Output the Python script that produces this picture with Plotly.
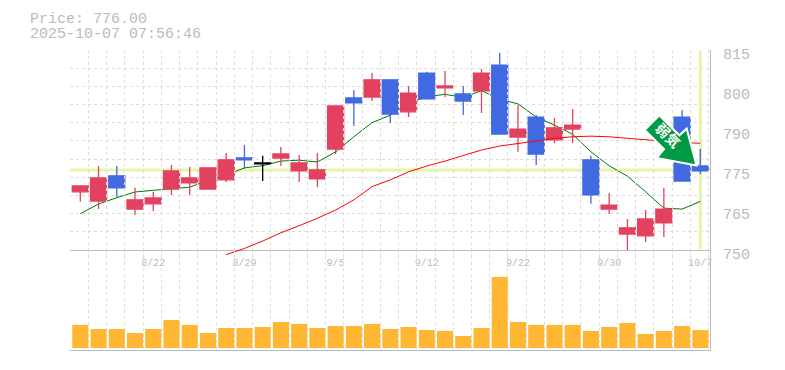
import plotly.graph_objects as go

# ---- data ----
open_ = [768.9, 765.9, 774.1, 763.3, 765.0, 769.8, 771.8, 769.8, 772.8, 779.9, 778.0, 779.9, 775.7, 773.1, 782.8, 799.4, 799.7, 805.3,
         794.9, 807.5, 802.7, 800.7, 801.7, 810.1, 786.7, 793.2, 785.8, 789.3, 779.3, 763.3, 755.2, 754.6, 758.8, 793.2, 777.3]
close = [770.8, 773.4, 770.2, 766.3, 766.9, 775.7, 773.4, 776.7, 779.3, 779.3, 778.3, 781.2, 778.3, 776.0, 796.8, 797.8, 805.3, 794.2,
         801.0, 799.1, 803.3, 798.4, 807.5, 787.7, 789.3, 781.2, 789.7, 790.6, 767.9, 764.6, 757.2, 760.1, 763.3, 772.4, 775.7]
high = [771.1, 777.3, 777.3, 770.2, 768.9, 777.6, 777.0, 777.0, 781.5, 784.1, 780.6, 783.5, 780.9, 781.5, 796.8, 802.0, 807.5, 805.3,
        803.3, 807.9, 808.2, 803.3, 808.8, 814.0, 797.1, 793.9, 792.9, 795.8, 780.6, 768.5, 760.1, 763.0, 770.2, 795.5, 782.8]
low = [765.7, 763.3, 767.2, 761.4, 762.7, 767.9, 767.9, 769.5, 772.1, 776.3, 772.4, 777.3, 772.1, 770.5, 781.2, 790.3, 798.4, 791.3,
       793.2, 798.8, 799.7, 793.9, 794.5, 787.7, 781.9, 777.6, 784.8, 784.8, 765.0, 761.7, 750.0, 752.6, 754.2, 772.4, 774.7]
doji_index = [10]
ma_short = [761.8, 764.95, 767.0, 768.85, 769.4, 769.9, 770.4, 772.7, 774.3, 776.7, 777.4, 778.9, 779.2, 778.6, 781.9, 786.8, 791.4, 793.8,
            797.7, 799.8, 800.6, 799.6, 801.8, 799.0, 797.5, 793.2, 790.6, 787.6, 781.9, 777.4, 774.0, 768.9, 763.6, 763.3, 765.8]
ma_long = [748.5, 750.5, 752.9, 755.6, 757.9, 760.3, 763.0, 766.3, 770.6, 772.8, 775.4, 777.3, 778.9, 780.8, 782.5, 783.8, 784.5, 785.4,
           786.3, 786.8, 787.0, 786.8, 786.3, 785.8, 785.3, 784.9, 784.7]
ma_long_start = 8
volume = [23000, 19000, 19000, 15000, 19000, 28000, 23000, 15000, 20000, 20000, 21000, 26000, 24000, 20000, 22000, 22000, 24000, 19000,
          21000, 18000, 17000, 12000, 20000, 71000, 26000, 23000, 23000, 23000, 17000, 21000, 25000, 14000, 17000, 22000, 18000]
date_positions = [4, 9, 14, 19, 24, 29, 34]
date_labels = ["8/22", "8/29", "9/5", "9/12", "9/22", "9/30", "10/7"]
price_ticks = [750, 763, 776, 789, 802, 815]
price_labels = ["750", "765", "775", "790", "800", "815"]
current_price = 776.0
title_lines = ["Price: 776.00", "2025-10-07 07:56:46"]
badge_text = "弱気"

RED, BLUE, ORANGE = "#E2425F", "#4169E1", "#FFB733"
GRID, AXIS, TEXT = "#DDDDDD", "#BBBBBB", "#BBBBBB"
PALE = "#E6F5A9"
MONO = "Liberation Mono, monospace"
W, H = 785, 370
L, R, T, B = 70, 75, 50, 20

idx = list(range(len(open_)))
XR = [-0.565, 34.53]
YR = [750, 815]
normal = [i for i in idx if i not in doji_index]
pick = lambda arr, ids: [arr[i] for i in ids]

fig = go.Figure()
# price-level markers (behind candles)
fig.add_trace(go.Scatter(x=XR, y=[current_price, current_price], mode="lines", line=dict(color=PALE, width=3),
                         hoverinfo="skip", xaxis="x", yaxis="y"))
fig.add_trace(go.Scatter(x=[idx[-1], idx[-1]], y=[750.3, 814.7], mode="lines", line=dict(color=PALE, width=3),
                         hoverinfo="skip", xaxis="x", yaxis="y"))
fig.add_trace(go.Scatter(x=idx, y=ma_short, mode="lines", line=dict(color="#007A00", width=1),
                         xaxis="x", yaxis="y"))
# the long average dips just under the price panel, so it has a taller hidden axis with the same scale
fig.add_trace(go.Scatter(x=idx[ma_long_start:], y=ma_long, mode="lines", line=dict(color="#FF0000", width=1),
                         xaxis="x", yaxis="y4"))
# candles on an overlaid axis so that they sit above the lines
fig.add_trace(go.Candlestick(x=normal, open=pick(open_, normal), high=pick(high, normal), low=pick(low, normal),
                             close=pick(close, normal), whiskerwidth=0,
                             increasing=dict(line=dict(color=RED, width=1.3), fillcolor=RED),
                             decreasing=dict(line=dict(color=BLUE, width=1.3), fillcolor=BLUE),
                             xaxis="x", yaxis="y3"))
fig.add_trace(go.Candlestick(x=doji_index, open=pick(open_, doji_index), high=pick(high, doji_index),
                             low=pick(low, doji_index), close=pick(close, doji_index), whiskerwidth=0,
                             increasing=dict(line=dict(color="#000000", width=1.3), fillcolor="#000000"),
                             decreasing=dict(line=dict(color="#000000", width=1.3), fillcolor="#000000"),
                             xaxis="x", yaxis="y3"))
fig.add_trace(go.Bar(x=idx, y=volume, marker=dict(color=ORANGE, line=dict(width=0)), width=0.88,
                     xaxis="x2", yaxis="y2"))

xgrid = [k - 0.55 for k in range(36)]
ygrid = [750 + 65 / 11 * k for k in range(12)]
xminor = dict(tickvals=xgrid, showgrid=True, gridcolor=GRID, griddash="3px,3px", gridwidth=1, ticklen=0)
yminor = dict(tickvals=ygrid, showgrid=True, gridcolor=GRID, griddash="3px,3px", gridwidth=1, ticklen=0)

fig.update_layout(
    width=W, height=H, margin=dict(l=L, r=R, t=T, b=B, pad=0, autoexpand=False),
    paper_bgcolor="#FFFFFF", plot_bgcolor="rgba(0,0,0,0)", showlegend=False, boxmode="overlay", boxgap=0.12,
    boxgroupgap=0, bargap=0.12,
    font=dict(family=MONO, color=TEXT),
    xaxis=dict(domain=[0, 1], range=XR, anchor="y", tickmode="array", tickvals=date_positions, ticktext=date_labels,
               tickfont=dict(size=10, color=TEXT, family=MONO), ticks="", ticklen=0, showgrid=False, zeroline=False,
               showline=True, linecolor=AXIS, linewidth=1, minor=xminor, rangeslider=dict(visible=False),
               ticklabelstandoff=3),
    yaxis=dict(domain=[1 / 3, 1], range=YR, side="right", anchor="x", tickmode="array", tickvals=price_ticks,
               ticktext=price_labels, tickfont=dict(size=15, color=TEXT, family=MONO), ticks="", showgrid=False,
               zeroline=False, showline=True, linecolor=AXIS, linewidth=1, minor=yminor,
               ticklabelstandoff=9, ticklabelshift=4),
    yaxis3=dict(overlaying="y", range=YR, side="right", visible=False, anchor="x", showgrid=False, zeroline=False),
    yaxis4=dict(domain=[0.3, 1], range=[746.75, 815], side="right", visible=False, anchor="x", showgrid=False,
                zeroline=False),
    xaxis2=dict(domain=[0, 1], range=XR, anchor="y2", matches="x", showticklabels=False, ticks="", showgrid=False,
                zeroline=False, showline=True, linecolor=AXIS, linewidth=1, minor=xminor,
                rangeslider=dict(visible=False)),
    yaxis2=dict(domain=[0, 1 / 3], range=[-2000, 98000], side="right", anchor="x2", showticklabels=False, ticks="",
                showgrid=False, zeroline=False, showline=True, linecolor=AXIS, linewidth=1),
)

px = lambda v: (v - L) / (W - L - R)
py = lambda v: 1 - (v - T) / (H - T - B)
outline = [(644.7, 130), (659.3, 115.3), (679.3, 135.3), (686.7, 128.7), (696.5, 165.5), (656.7, 158), (664, 149)]
path = "M " + " L ".join(f"{px(a):.5f},{py(b):.5f}" for a, b in outline) + " Z"
fig.add_shape(type="path", path=path, xref="paper", yref="paper", fillcolor="#009944",
              line=dict(color="#FFFFFF", width=2), layer="above")
fig.add_shape(type="rect", x0=px(657), x1=px(677), y0=py(126.5), y1=py(146.5), xref="paper", yref="paper",
              fillcolor="rgba(0,0,0,0)", line=dict(width=0), layer="above",
              label=dict(text=badge_text, textangle=45, textposition="middle center",
                         font=dict(family="Noto Sans CJK JP", size=14, color="#FFFFFF", weight="bold")))
for line, ypx in zip(title_lines, (19, 34)):
    fig.add_annotation(x=px(28), y=py(ypx), xref="paper", yref="paper", text=line, showarrow=False, xanchor="left",
                       yanchor="middle", font=dict(family=MONO, size=15, color=TEXT))

fig.write_html("out.html", config=dict(displayModeBar=False),
               post_script="document.body.style.margin='0';")
